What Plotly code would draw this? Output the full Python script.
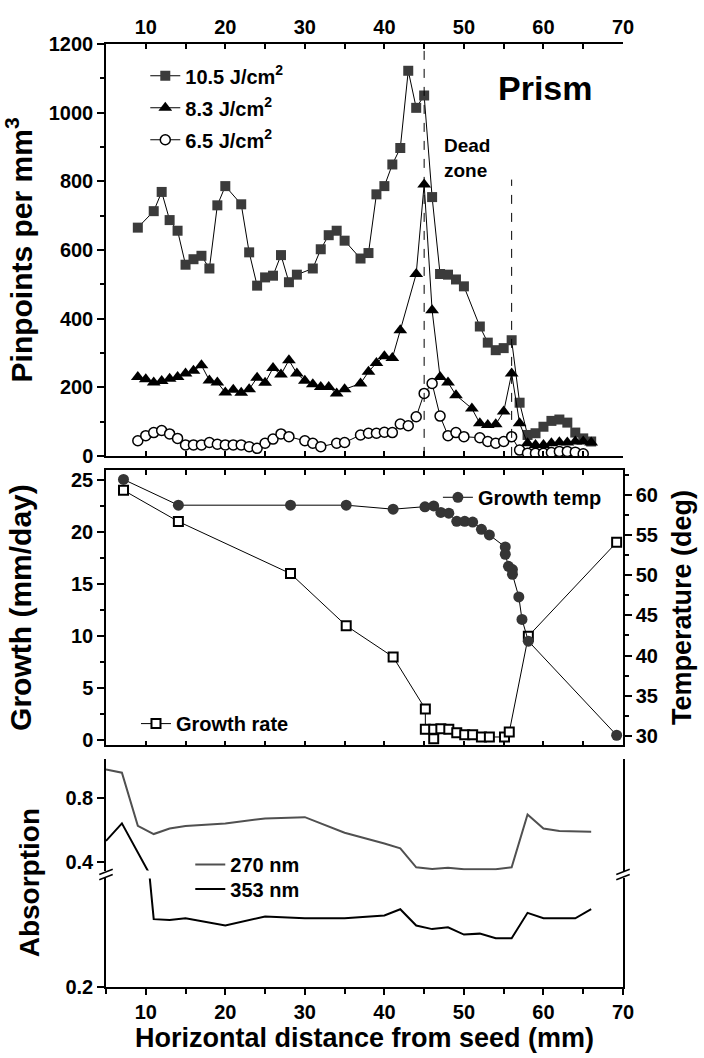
import plotly.graph_objects as go

FONT = "Liberation Sans, Arial, sans-serif"

# ---------------- Top panel: pinpoint density ----------------
x_105 = [9, 11, 12, 13, 14, 15, 16, 17, 18, 19, 20, 22, 23, 24, 25, 26, 27, 28, 29,
         31, 32, 33, 34, 35, 37, 38, 39, 40, 41, 42, 43, 44, 45, 46, 47, 48, 49, 50,
         52, 53, 54, 55, 56, 57, 58, 59, 60, 61, 62, 63, 64, 65, 66]
y_105 = [665, 713, 769, 687, 656, 557, 573, 583, 546, 730, 786, 733, 593, 496, 520, 525, 585, 506, 528,
         546, 602, 643, 656, 627, 575, 591, 762, 786, 849, 897, 1122, 1014, 1050, 754, 530, 528, 514, 494,
         377, 330, 308, 314, 337, 155, 61, 66, 85, 102, 106, 97, 68, 51, 42]

x_83 = [9, 10, 11, 12, 13, 14, 15, 16, 17, 18, 19, 20, 21, 22, 23, 24, 25, 26, 27, 28, 29, 30,
        31, 32, 33, 34, 35, 37, 38, 39, 40, 41, 42, 44, 45, 46, 47, 48, 49, 51, 52, 53, 54,
        55, 56, 57, 58, 59, 60, 61, 62, 63, 64, 65, 66]
y_83 = [230, 223, 214, 218, 225, 230, 240, 248, 264, 220, 214, 185, 193, 184, 194, 228, 213, 256, 237, 279, 240, 219,
        209, 201, 201, 182, 194, 211, 245, 271, 290, 285, 366, 530, 791, 424, 230, 214, 177, 138, 95, 90, 92,
        129, 240, 95, 37, 32, 32, 37, 40, 39, 42, 42, 39]

x_65 = [9, 10, 11, 12, 13, 14, 15, 16, 17, 18, 19, 20, 21, 22, 23, 24, 25, 26, 27, 28,
        30, 31, 32, 34, 35, 37, 38, 39, 40, 41, 42, 43, 44, 45, 46, 47, 48, 49, 50,
        52, 53, 54, 55, 56, 57, 58, 59, 60, 61, 62, 63, 64, 65]
y_65 = [44, 59, 68, 74, 64, 51, 32, 32, 32, 39, 34, 32, 32, 32, 27, 22, 37, 49, 64, 56,
        44, 37, 27, 37, 39, 61, 66, 66, 69, 68, 93, 88, 114, 182, 211, 116, 59, 68, 56,
        53, 42, 37, 42, 56, 17, 8, 8, 8, 10, 13, 13, 11, 6]

dead_zone_x = [45, 56]
dead_zone_top = [1200, 805]

# ---------------- Middle panel: growth rate & temperature ----------------
x_rate = [7.2, 14.1, 28.2, 35.2, 41.1, 45.15, 45.15, 46.2, 46.2, 47.1, 48.1, 49.1, 50.1,
          51.1, 52.2, 53.2, 55.1, 55.7, 58.1, 69.2]
y_rate = [24.0, 21.0, 16.0, 11.0, 8.0, 3.0, 1.05, 1.05, 0.15, 1.1, 1.05, 0.73, 0.54,
          0.54, 0.32, 0.32, 0.32, 0.8, 10.0, 19.0]

x_temp = [7.2, 14.1, 28.2, 35.2, 41.1, 45.1, 46.2, 47.1, 48.1, 49.1, 50.1, 51.1, 52.2,
          53.2, 55.2, 55.2, 55.6, 56.1, 56.1, 56.9, 57.3, 58.1, 69.2]
y_temp = [61.9, 58.7, 58.7, 58.7, 58.2, 58.5, 58.6, 57.8, 57.7, 56.7, 56.7, 56.6, 55.7,
          55.0, 53.5, 52.6, 51.1, 50.7, 50.1, 47.3, 44.5, 41.8, 30.1]

# ---------------- Bottom panel: absorption ----------------
x_270 = [5, 7, 9, 11, 13, 15, 20, 25, 30, 35, 40, 42, 44, 46, 48, 50, 52, 54, 56, 58, 60, 62, 66]
y_270 = [0.979, 0.958, 0.625, 0.573, 0.608, 0.623, 0.639, 0.671, 0.679, 0.581, 0.514, 0.483,
         0.364, 0.354, 0.362, 0.352, 0.352, 0.352, 0.364, 0.696, 0.608, 0.592, 0.588]

x_353 = [5, 7, 11, 13, 15, 20, 25, 30, 35, 40, 42, 44, 46, 48, 50, 52, 54, 56, 58, 60, 62, 64, 66]
y_353 = [0.53, 0.64, 0.275, 0.274, 0.276, 0.268, 0.278, 0.276, 0.276, 0.279, 0.286, 0.268,
         0.264, 0.266, 0.258, 0.259, 0.254, 0.254, 0.282, 0.276, 0.276, 0.276, 0.286]

x_ticks = [10, 20, 30, 40, 50, 60, 70]

fig = go.Figure()

# top traces
fig.add_trace(go.Scatter(x=x_105, y=y_105, mode="lines+markers", name="10.5 J/cm<sup>2</sup>",
                         line=dict(color="black", width=1),
                         marker=dict(symbol="square", size=10, color="#3b3b3b"),
                         xaxis="x", yaxis="y", legend="legend", legendgroup="a"))
fig.add_trace(go.Scatter(x=x_83, y=y_83, mode="lines+markers", name="8.3 J/cm<sup>2</sup>",
                         line=dict(color="black", width=1),
                         marker=dict(symbol="triangle-up", size=12, color="black"),
                         xaxis="x", yaxis="y", legend="legend", legendgroup="b"))
fig.add_trace(go.Scatter(x=x_65, y=y_65, mode="lines+markers", name="6.5 J/cm<sup>2</sup>",
                         line=dict(color="black", width=1),
                         marker=dict(symbol="circle", size=10, color="white",
                                     line=dict(color="black", width=1.5)),
                         xaxis="x", yaxis="y", legend="legend", legendgroup="c"))

# middle traces
fig.add_trace(go.Scatter(x=x_temp, y=y_temp, mode="lines+markers", name="Growth temp",
                         line=dict(color="black", width=1),
                         marker=dict(symbol="circle", size=11, color="#353535"),
                         xaxis="x2", yaxis="y3", legend="legend2"))
fig.add_trace(go.Scatter(x=x_rate, y=y_rate, mode="lines+markers", name="Growth rate",
                         line=dict(color="black", width=1),
                         marker=dict(symbol="square", size=9, color="white",
                                     line=dict(color="black", width=2)),
                         xaxis="x2", yaxis="y2", legend="legend3"))

# bottom traces (broken axis: upper y5, lower y4)
fig.add_trace(go.Scatter(x=x_270, y=y_270, mode="lines", name="270 nm",
                         line=dict(color="#505050", width=2),
                         xaxis="x3", yaxis="y5", legend="legend4"))
fig.add_trace(go.Scatter(x=x_353, y=y_353, mode="lines", name="353 nm",
                         line=dict(color="black", width=2),
                         xaxis="x3", yaxis="y5", legend="legend5"))
fig.add_trace(go.Scatter(x=x_353, y=y_353, mode="lines", name="353 nm", showlegend=False,
                         line=dict(color="black", width=2),
                         xaxis="x3", yaxis="y4"))

tickfont = dict(family=FONT, size=20, color="black", weight="bold")
def tfont(s):
    return dict(family=FONT, size=s, color="black", weight="bold")

base = dict(showline=True, linecolor="black", linewidth=1.5, zeroline=False, showgrid=False,
            tickfont=tickfont, tickcolor="black", tickwidth=1.5)

def xax(**kw):
    d = dict(base)
    d.update(range=[5, 70], tickvals=x_ticks, ticklen=5,
             minor=dict(dtick=5, tick0=5, ticklen=5, ticks="inside", tickcolor="black", tickwidth=1.5))
    d.update(kw)
    return d

def leg(x, y):
    return dict(x=x, y=y, xanchor="left", yanchor="top", bgcolor="rgba(0,0,0,0)", font=tfont(20))

D_TOP = [0.5632, 1.0]
D_MID = [0.2563, 0.5484]
D_LOW = [0.0, 0.1151]
D_UP = [0.1235, 0.2421]

fig.update_layout(
    width=704, height=1058,
    margin=dict(l=106, r=74, t=44, b=67),
    paper_bgcolor="white", plot_bgcolor="white",
    font=dict(family=FONT, color="black"),
    xaxis=xax(anchor="y", side="top", ticks="inside", mirror="ticks"),
    yaxis=dict(base, domain=D_TOP, anchor="x", range=[0, 1200], dtick=200, ticks="outside", ticklen=7,
               minor=dict(dtick=100, ticklen=4, ticks="outside", tickcolor="black", tickwidth=1.5),
               title=dict(text="Pinpoints per mm<sup>3</sup>", font=tfont(30), standoff=8)),
    yaxis7=dict(base, overlaying="y", side="right", anchor="x", range=[0, 1200], dtick=200,
                ticks="inside", ticklen=7, showticklabels=False,
                minor=dict(dtick=100, ticklen=4, ticks="inside", tickcolor="black", tickwidth=1.5)),
    xaxis2=xax(anchor="y2", ticks="inside", mirror="ticks", showticklabels=False),
    yaxis2=dict(base, domain=D_MID, anchor="x2", range=[-0.48, 25.96], dtick=5, tick0=0,
                ticks="outside", ticklen=7,
                minor=dict(dtick=2.5, ticklen=4, ticks="outside", tickcolor="black", tickwidth=1.5),
                title=dict(text="Growth (mm/day)", font=tfont(30), standoff=30)),
    yaxis3=dict(base, overlaying="y2", side="right", anchor="x2", range=[28.85, 63.09], dtick=5, tick0=0,
                ticks="outside", ticklen=7,
                minor=dict(dtick=2.5, ticklen=4, ticks="outside", tickcolor="black", tickwidth=1.5),
                title=dict(text="Temperature (deg)", font=tfont(27), standoff=15)),
    xaxis3=xax(anchor="y4", ticks="outside", ticklen=6,
               minor=dict(dtick=5, tick0=5, ticklen=5, ticks="outside", tickcolor="black", tickwidth=1.5),
               title=dict(text="Horizontal distance from seed (mm)", font=tfont(27), standoff=4)),
    xaxis4=xax(overlaying="x3", anchor="y5", side="top", ticks="inside", showticklabels=False),
    yaxis4=dict(base, domain=D_LOW, anchor="x3", range=[0.2, 0.32], tickvals=[0.2], ticktext=["0.2"],
                ticks="outside", ticklen=7, mirror=True),
    yaxis5=dict(base, domain=D_UP, anchor="x3", range=[0.344, 1.046], tickvals=[0.4, 0.8],
                ticktext=["0.4", "0.8"], ticks="outside", ticklen=7, mirror=True),
    yaxis6=dict(base, overlaying="y5", side="right", anchor="x3", range=[0.344, 1.046],
                tickvals=[0.4, 0.8], ticks="inside", ticklen=7, showticklabels=False),
    legend=dict(leg(0.076, 0.987), traceorder="grouped", tracegroupgap=3),
    legend2=leg(0.642, 0.540),
    legend3=leg(0.058, 0.300),
    legend4=leg(0.163, 0.1505),
    legend5=leg(0.163, 0.1245),
    showlegend=True,
)

# dead zone dashed lines
for xv, top in zip(dead_zone_x, dead_zone_top):
    fig.add_shape(type="line", xref="x", yref="y", x0=xv, x1=xv, y0=0, y1=top,
                  line=dict(color="black", width=1, dash="dash"))

# axis break marks
yb = 0.1193
for xp in (0.0, 1.0):
    for dy in (-0.0028, 0.0028):
        fig.add_shape(type="line", xref="paper", yref="paper",
                      x0=xp - 0.013, x1=xp + 0.013, y0=yb + dy - 0.0028, y1=yb + dy + 0.0028,
                      line=dict(color="black", width=1.5))

fig.add_annotation(text="Prism", xref="x", yref="y", x=60.2, y=1072, showarrow=False,
                   font=tfont(34))
fig.add_annotation(text="Dead<br>zone", xref="x", yref="y", x=47.2, y=940, showarrow=False,
                   xanchor="left", yanchor="top", align="left", font=tfont(19))
fig.add_annotation(text="Absorption", xref="paper", yref="paper", x=-0.149, y=0.111,
                   textangle=-90, showarrow=False, xanchor="center", yanchor="middle",
                   font=tfont(28))

fig.write_html("out.html")
